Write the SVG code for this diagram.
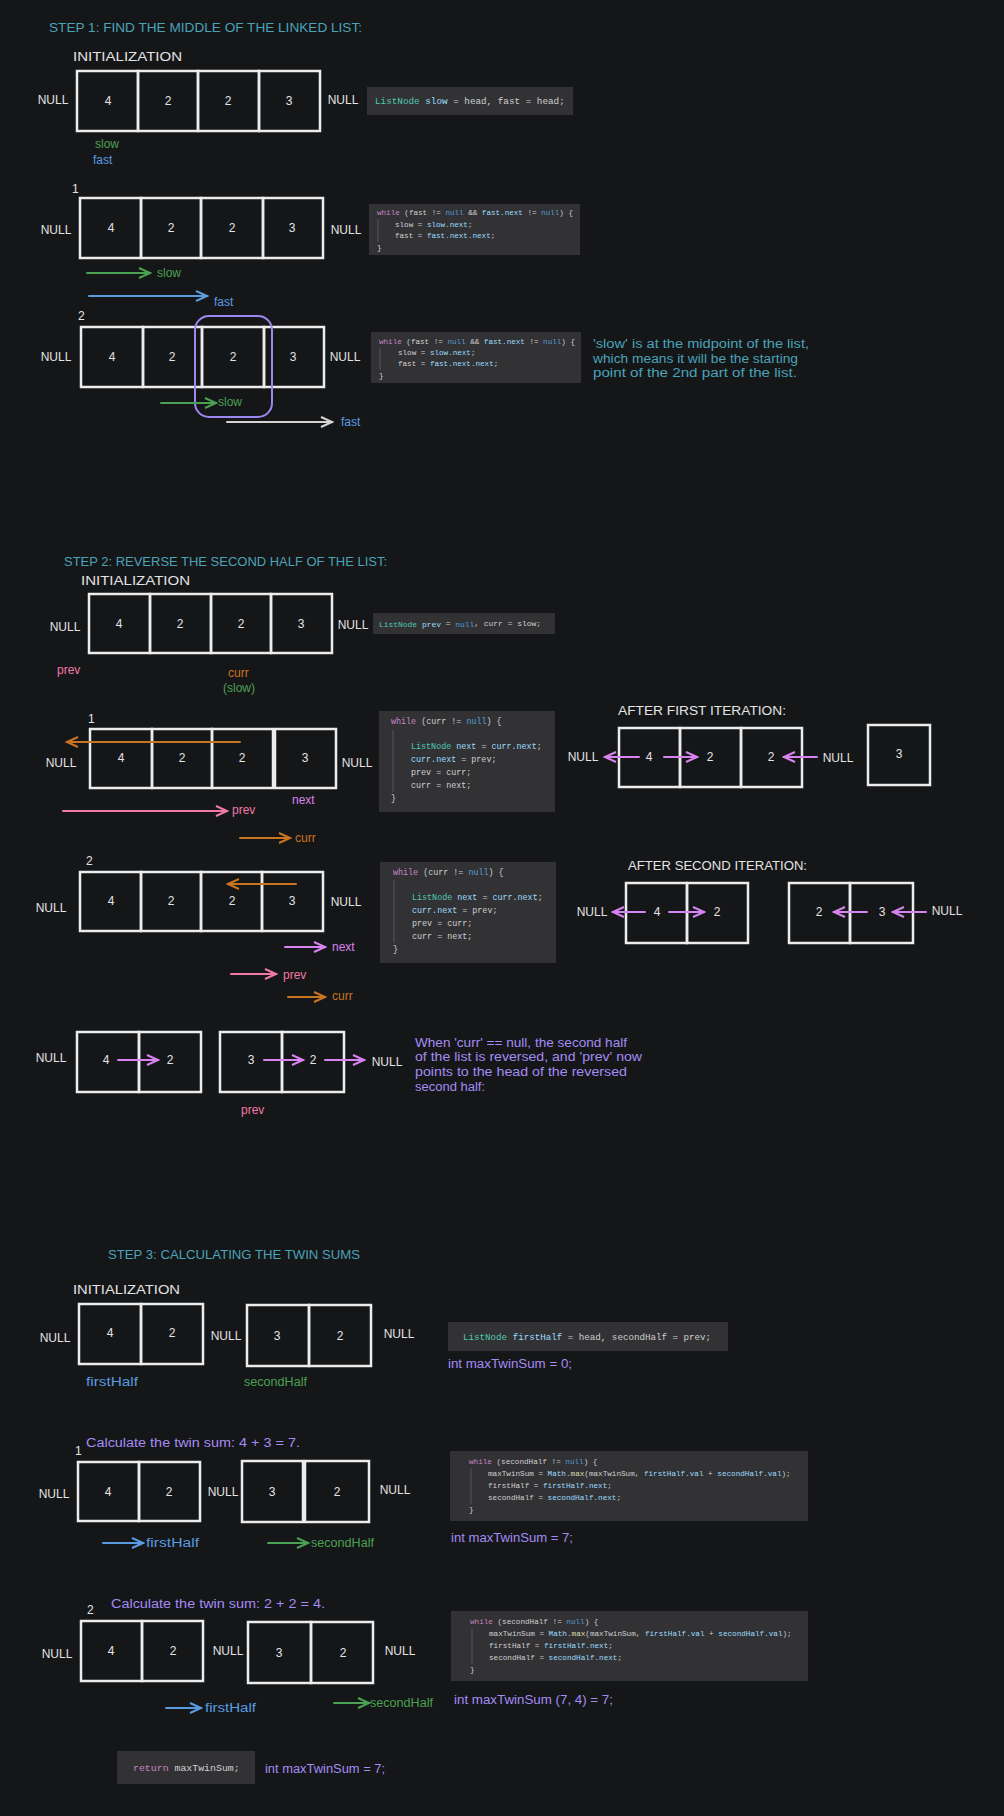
<svg xmlns="http://www.w3.org/2000/svg" width="1004" height="1816" viewBox="0 0 1004 1816">
<defs>
<style>
.hw{font-family:"Liberation Sans",Arial,sans-serif;font-size:12px;fill:#e4e4e4;dominant-baseline:central}
.mid{text-anchor:middle}
.teal{fill:#4ba3b8}.grn{fill:#4ba153}.blu{fill:#5a9be0}.pnk{fill:#f07aa4}.org{fill:#c97420}.pur{fill:#a48cf4}.mag{fill:#d884f0}
.code{font-family:"Liberation Mono","DejaVu Sans Mono",monospace;fill:#cfcfcf;dominant-baseline:central}
.kw{fill:#c586c0}.nu{fill:#569cd6}.ty{fill:#4ec9b0}.va{fill:#9cdcfe}.fn{fill:#dcdcaa}
.cell{fill:none;stroke:#ececec;stroke-width:2.5}
.cbox{fill:#323235}
.guide{stroke:#555558;stroke-width:1}
.arr{fill:none;stroke-width:2;stroke-linecap:round}
</style>
<marker id="mG" markerUnits="userSpaceOnUse" markerWidth="14" markerHeight="14" refX="12" refY="6" orient="auto"><path d="M1,1 L12,6 L1,11" fill="none" stroke="#4ba153" stroke-width="2"/></marker>
<marker id="mB" markerUnits="userSpaceOnUse" markerWidth="14" markerHeight="14" refX="12" refY="6" orient="auto"><path d="M1,1 L12,6 L1,11" fill="none" stroke="#5a9be0" stroke-width="2"/></marker>
<marker id="mW" markerUnits="userSpaceOnUse" markerWidth="14" markerHeight="14" refX="12" refY="6" orient="auto"><path d="M1,1 L12,6 L1,11" fill="none" stroke="#d4d4d4" stroke-width="2"/></marker>
<marker id="mP" markerUnits="userSpaceOnUse" markerWidth="14" markerHeight="14" refX="12" refY="6" orient="auto"><path d="M1,1 L12,6 L1,11" fill="none" stroke="#f07aa4" stroke-width="2"/></marker>
<marker id="mO" markerUnits="userSpaceOnUse" markerWidth="14" markerHeight="14" refX="12" refY="6" orient="auto"><path d="M1,1 L12,6 L1,11" fill="none" stroke="#c97420" stroke-width="2"/></marker>
<marker id="mM" markerUnits="userSpaceOnUse" markerWidth="14" markerHeight="14" refX="12" refY="6" orient="auto"><path d="M1,1 L12,6 L1,11" fill="none" stroke="#d884f0" stroke-width="2"/></marker>
</defs>
<rect x="0" y="0" width="1004" height="1816" fill="#151618"/>

<!-- ================= STEP 1 ================= -->
<g id="step1-labels">
<text class="hw teal" x="49" y="28" font-size="13" textLength="313" lengthAdjust="spacingAndGlyphs">STEP 1: FIND THE MIDDLE OF THE LINKED LIST:</text>
<text class="hw" x="73" y="57" textLength="109" lengthAdjust="spacingAndGlyphs">INITIALIZATION</text>
<text class="hw mid" x="53" y="100">NULL</text>
<text class="hw mid" x="343" y="100">NULL</text>
<text class="hw grn" x="95" y="144">slow</text>
<text class="hw blu" x="93" y="160">fast</text>
<text class="hw" x="72" y="189">1</text>
<text class="hw mid" x="56" y="230">NULL</text>
<text class="hw mid" x="346" y="230">NULL</text>
<text class="hw grn" x="157" y="273">slow</text>
<text class="hw blu" x="214" y="302">fast</text>
<text class="hw" x="78" y="316">2</text>
<text class="hw mid" x="56" y="357">NULL</text>
<text class="hw mid" x="345" y="357">NULL</text>
<text class="hw grn" x="218" y="402">slow</text>
<text class="hw blu" x="341" y="422">fast</text>
<text class="hw teal" x="593" y="344" textLength="216" lengthAdjust="spacingAndGlyphs">'slow' is at the midpoint of the list,</text>
<text class="hw teal" x="593" y="359" textLength="205" lengthAdjust="spacingAndGlyphs">which means it will be the starting</text>
<text class="hw teal" x="593" y="373" textLength="204" lengthAdjust="spacingAndGlyphs">point of the 2nd part of the list.</text>
</g>

<g id="s1-init-list">
<g id="s1i-n1"><rect class="cell" x="77" y="71" width="61" height="60"/><text class="hw mid" x="108" y="101">4</text></g>
<g id="s1i-n2"><rect class="cell" x="138" y="71" width="60" height="60"/><text class="hw mid" x="168" y="101">2</text></g>
<g id="s1i-n3"><rect class="cell" x="198" y="71" width="61" height="60"/><text class="hw mid" x="228" y="101">2</text></g>
<g id="s1i-n4"><rect class="cell" x="259" y="71" width="61" height="60"/><text class="hw mid" x="289" y="101">3</text></g>
</g>
<g id="s1-init-code">
<rect class="cbox" x="367" y="87" width="206" height="28"/>
<text class="code" x="375" y="101" font-size="9.3"><tspan class="ty">ListNode</tspan> <tspan class="va">slow</tspan> = head, fast = head;</text>
</g>

<g id="s1-it1-list">
<g id="s1a-n1"><rect class="cell" x="80" y="198" width="61" height="60"/><text class="hw mid" x="111" y="228">4</text></g>
<g id="s1a-n2"><rect class="cell" x="141" y="198" width="60" height="60"/><text class="hw mid" x="171" y="228">2</text></g>
<g id="s1a-n3"><rect class="cell" x="201" y="198" width="62" height="60"/><text class="hw mid" x="232" y="228">2</text></g>
<g id="s1a-n4"><rect class="cell" x="263" y="198" width="60" height="60"/><text class="hw mid" x="292" y="228">3</text></g>
</g>
<g id="s1-it1-code">
<rect class="cbox" x="369" y="204" width="211" height="51"/>
<line class="guide" x1="378" y1="219" x2="378" y2="242"/>
<text class="code" x="377" y="213" font-size="7.6"><tspan class="kw">while</tspan> (fast != <tspan class="nu">null</tspan> &amp;&amp; <tspan class="va">fast.next</tspan> != <tspan class="nu">null</tspan>) {</text>
<text class="code" x="395" y="225" font-size="7.6">slow = <tspan class="va">slow.next</tspan>;</text>
<text class="code" x="395" y="236" font-size="7.6">fast = <tspan class="va">fast.next.next</tspan>;</text>
<text class="code" x="377" y="248" font-size="7.6">}</text>
</g>

<g id="s1-it2-list">
<g id="s1b-n1"><rect class="cell" x="81" y="327" width="62" height="60"/><text class="hw mid" x="112" y="357">4</text></g>
<g id="s1b-n2"><rect class="cell" x="143" y="327" width="59" height="60"/><text class="hw mid" x="172" y="357">2</text></g>
<g id="s1b-n3"><rect class="cell" x="202" y="327" width="62" height="60"/><text class="hw mid" x="233" y="357">2</text></g>
<g id="s1b-n4"><rect class="cell" x="264" y="327" width="60" height="60"/><text class="hw mid" x="293" y="357">3</text></g>
<g id="s1b-highlight"><rect x="195" y="316" width="77" height="101" rx="14" fill="none" stroke="#9d87f0" stroke-width="2"/></g>
</g>
<g id="s1-it2-code">
<rect class="cbox" x="371" y="332" width="210" height="51"/>
<line class="guide" x1="380" y1="348" x2="380" y2="370"/>
<text class="code" x="379" y="342" font-size="7.6"><tspan class="kw">while</tspan> (fast != <tspan class="nu">null</tspan> &amp;&amp; <tspan class="va">fast.next</tspan> != <tspan class="nu">null</tspan>) {</text>
<text class="code" x="398" y="353" font-size="7.6">slow = <tspan class="va">slow.next</tspan>;</text>
<text class="code" x="398" y="364" font-size="7.6">fast = <tspan class="va">fast.next.next</tspan>;</text>
<text class="code" x="379" y="376" font-size="7.6">}</text>
</g>

<!-- ================= STEP 2 ================= -->
<g id="step2-labels">
<text class="hw teal" x="64" y="562" font-size="13" textLength="323" lengthAdjust="spacingAndGlyphs">STEP 2: REVERSE THE SECOND HALF OF THE LIST:</text>
<text class="hw" x="81" y="581" textLength="109" lengthAdjust="spacingAndGlyphs">INITIALIZATION</text>
<text class="hw mid" x="65" y="627">NULL</text>
<text class="hw mid" x="353" y="625">NULL</text>
<text class="hw pnk" x="57" y="670">prev</text>
<text class="hw org" x="228" y="673">curr</text>
<text class="hw grn" x="223" y="688">(slow)</text>
<text class="hw" x="88" y="719">1</text>
<text class="hw mid" x="61" y="763">NULL</text>
<text class="hw mid" x="357" y="763">NULL</text>
<text class="hw mag" x="292" y="800">next</text>
<text class="hw pnk" x="232" y="810">prev</text>
<text class="hw org" x="295" y="838">curr</text>
<text class="hw" x="86" y="861">2</text>
<text class="hw mid" x="51" y="908">NULL</text>
<text class="hw mid" x="346" y="902">NULL</text>
<text class="hw mag" x="332" y="947">next</text>
<text class="hw pnk" x="283" y="975">prev</text>
<text class="hw org" x="332" y="996">curr</text>
<text class="hw mid" x="51" y="1058">NULL</text>
<text class="hw mid" x="387" y="1062">NULL</text>
<text class="hw pnk" x="241" y="1110">prev</text>
<text class="hw pur" x="415" y="1043" textLength="212" lengthAdjust="spacingAndGlyphs">When 'curr' == null, the second half</text>
<text class="hw pur" x="415" y="1057" textLength="227" lengthAdjust="spacingAndGlyphs">of the list is reversed, and 'prev' now</text>
<text class="hw pur" x="415" y="1072" textLength="212" lengthAdjust="spacingAndGlyphs">points to the head of the reversed</text>
<text class="hw pur" x="415" y="1087" textLength="70" lengthAdjust="spacingAndGlyphs">second half:</text>
<text class="hw" x="618" y="711" textLength="168" lengthAdjust="spacingAndGlyphs">AFTER FIRST ITERATION:</text>
<text class="hw mid" x="583" y="757">NULL</text>
<text class="hw mid" x="838" y="758">NULL</text>
<text class="hw" x="628" y="866" textLength="179" lengthAdjust="spacingAndGlyphs">AFTER SECOND ITERATION:</text>
<text class="hw mid" x="592" y="912">NULL</text>
<text class="hw mid" x="947" y="911">NULL</text>
</g>

<g id="s2-init-list">
<g id="s2i-n1"><rect class="cell" x="89" y="594" width="61" height="59"/><text class="hw mid" x="119" y="624">4</text></g>
<g id="s2i-n2"><rect class="cell" x="150" y="594" width="61" height="59"/><text class="hw mid" x="180" y="624">2</text></g>
<g id="s2i-n3"><rect class="cell" x="211" y="594" width="60" height="59"/><text class="hw mid" x="241" y="624">2</text></g>
<g id="s2i-n4"><rect class="cell" x="271" y="594" width="61" height="59"/><text class="hw mid" x="301" y="624">3</text></g>
</g>
<g id="s2-init-code">
<rect class="cbox" x="373" y="613" width="182" height="21"/>
<text class="code" x="379" y="623.5" font-size="7.95"><tspan class="ty">ListNode</tspan> <tspan class="va">prev</tspan> = <tspan class="nu">null</tspan>, curr = slow;</text>
</g>

<g id="s2-it1-list">
<g id="s2a-n1"><rect class="cell" x="90" y="729" width="62" height="59"/><text class="hw mid" x="121" y="758">4</text></g>
<g id="s2a-n2"><rect class="cell" x="152" y="729" width="60" height="59"/><text class="hw mid" x="182" y="758">2</text></g>
<g id="s2a-n3"><rect class="cell" x="212" y="729" width="61" height="59"/><text class="hw mid" x="242" y="758">2</text></g>
<g id="s2a-n4"><rect class="cell" x="275" y="729" width="61" height="59"/><text class="hw mid" x="305" y="758">3</text></g>
</g>
<g id="s2-it1-code">
<rect class="cbox" x="379" y="711" width="176" height="101"/>
<line class="guide" x1="393" y1="730" x2="393" y2="792"/>
<text class="code" x="391" y="722" font-size="8.4"><tspan class="kw">while</tspan> (curr != <tspan class="nu">null</tspan>) {</text>
<text class="code" x="411" y="747" font-size="8.4"><tspan class="ty">ListNode</tspan> <tspan class="va">next</tspan> = <tspan class="va">curr.next</tspan>;</text>
<text class="code" x="411" y="760" font-size="8.4"><tspan class="va">curr.next</tspan> = prev;</text>
<text class="code" x="411" y="773" font-size="8.4">prev = curr;</text>
<text class="code" x="411" y="786" font-size="8.4">curr = next;</text>
<text class="code" x="391" y="799" font-size="8.4">}</text>
</g>

<g id="s2-after1">
<g id="s2f-n1"><rect class="cell" x="619" y="728" width="61" height="59"/><text class="hw mid" x="649" y="757">4</text></g>
<g id="s2f-n2"><rect class="cell" x="680" y="728" width="61" height="59"/><text class="hw mid" x="710" y="757">2</text></g>
<g id="s2f-n3"><rect class="cell" x="741" y="728" width="61" height="59"/><text class="hw mid" x="771" y="757">2</text></g>
<g id="s2f-n4"><rect class="cell" x="868" y="725" width="62" height="60"/><text class="hw mid" x="899" y="754">3</text></g>
</g>

<g id="s2-it2-list">
<g id="s2b-n1"><rect class="cell" x="80" y="872" width="61" height="59"/><text class="hw mid" x="111" y="901">4</text></g>
<g id="s2b-n2"><rect class="cell" x="141" y="872" width="60" height="59"/><text class="hw mid" x="171" y="901">2</text></g>
<g id="s2b-n3"><rect class="cell" x="201" y="872" width="61" height="59"/><text class="hw mid" x="232" y="901">2</text></g>
<g id="s2b-n4"><rect class="cell" x="262" y="872" width="61" height="59"/><text class="hw mid" x="292" y="901">3</text></g>
</g>
<g id="s2-it2-code">
<rect class="cbox" x="380" y="862" width="176" height="101"/>
<line class="guide" x1="394" y1="880" x2="394" y2="943"/>
<text class="code" x="393" y="873" font-size="8.4"><tspan class="kw">while</tspan> (curr != <tspan class="nu">null</tspan>) {</text>
<text class="code" x="412" y="898" font-size="8.4"><tspan class="ty">ListNode</tspan> <tspan class="va">next</tspan> = <tspan class="va">curr.next</tspan>;</text>
<text class="code" x="412" y="911" font-size="8.4"><tspan class="va">curr.next</tspan> = prev;</text>
<text class="code" x="412" y="924" font-size="8.4">prev = curr;</text>
<text class="code" x="412" y="937" font-size="8.4">curr = next;</text>
<text class="code" x="393" y="950" font-size="8.4">}</text>
</g>

<g id="s2-after2">
<g id="s2g-n1"><rect class="cell" x="626" y="883" width="61" height="60"/><text class="hw mid" x="657" y="912">4</text></g>
<g id="s2g-n2"><rect class="cell" x="687" y="883" width="61" height="60"/><text class="hw mid" x="717" y="912">2</text></g>
<g id="s2g-n3"><rect class="cell" x="789" y="883" width="61" height="60"/><text class="hw mid" x="819" y="912">2</text></g>
<g id="s2g-n4"><rect class="cell" x="850" y="883" width="63" height="60"/><text class="hw mid" x="882" y="912">3</text></g>
</g>

<g id="s2-final">
<g id="s2h-n1"><rect class="cell" x="77" y="1032" width="62" height="60"/><text class="hw mid" x="106" y="1060">4</text></g>
<g id="s2h-n2"><rect class="cell" x="139" y="1032" width="62" height="60"/><text class="hw mid" x="170" y="1060">2</text></g>
<g id="s2h-n3"><rect class="cell" x="220" y="1032" width="62" height="60"/><text class="hw mid" x="251" y="1060">3</text></g>
<g id="s2h-n4"><rect class="cell" x="282" y="1032" width="62" height="60"/><text class="hw mid" x="313" y="1060">2</text></g>
</g>

<!-- ================= STEP 3 ================= -->
<g id="step3-labels">
<text class="hw teal" x="108" y="1255" font-size="13" textLength="252" lengthAdjust="spacingAndGlyphs">STEP 3: CALCULATING THE TWIN SUMS</text>
<text class="hw" x="73" y="1290" textLength="107" lengthAdjust="spacingAndGlyphs">INITIALIZATION</text>
<text class="hw mid" x="55" y="1338">NULL</text>
<text class="hw mid" x="226" y="1336">NULL</text>
<text class="hw mid" x="399" y="1334">NULL</text>
<text class="hw blu" x="86" y="1382" textLength="52" lengthAdjust="spacingAndGlyphs">firstHalf</text>
<text class="hw grn" x="244" y="1382" textLength="63" lengthAdjust="spacingAndGlyphs">secondHalf</text>
<text class="hw pur" x="448" y="1364" font-size="13" textLength="124" lengthAdjust="spacingAndGlyphs">int maxTwinSum = 0;</text>
<text class="hw" x="75" y="1451">1</text>
<text class="hw pur" x="86" y="1443" font-size="13" textLength="214" lengthAdjust="spacingAndGlyphs">Calculate the twin sum: 4 + 3 = 7.</text>
<text class="hw mid" x="54" y="1494">NULL</text>
<text class="hw mid" x="223" y="1492">NULL</text>
<text class="hw mid" x="395" y="1490">NULL</text>
<text class="hw blu" x="146" y="1543" textLength="53" lengthAdjust="spacingAndGlyphs">firstHalf</text>
<text class="hw grn" x="311" y="1543" textLength="63" lengthAdjust="spacingAndGlyphs">secondHalf</text>
<text class="hw pur" x="451" y="1538" font-size="13" textLength="122" lengthAdjust="spacingAndGlyphs">int maxTwinSum = 7;</text>
<text class="hw" x="87" y="1610">2</text>
<text class="hw pur" x="111" y="1604" font-size="13" textLength="214" lengthAdjust="spacingAndGlyphs">Calculate the twin sum: 2 + 2 = 4.</text>
<text class="hw mid" x="57" y="1654">NULL</text>
<text class="hw mid" x="228" y="1651">NULL</text>
<text class="hw mid" x="400" y="1651">NULL</text>
<text class="hw blu" x="205" y="1708" textLength="51" lengthAdjust="spacingAndGlyphs">firstHalf</text>
<text class="hw grn" x="370" y="1703" textLength="63" lengthAdjust="spacingAndGlyphs">secondHalf</text>
<text class="hw pur" x="454" y="1700" font-size="13" textLength="159" lengthAdjust="spacingAndGlyphs">int maxTwinSum (7, 4) = 7;</text>
<text class="hw pur" x="265" y="1769" font-size="13" textLength="120" lengthAdjust="spacingAndGlyphs">int maxTwinSum = 7;</text>
</g>

<g id="s3-init-list">
<g id="s3i-n1"><rect class="cell" x="79" y="1304" width="62" height="60"/><text class="hw mid" x="110" y="1333">4</text></g>
<g id="s3i-n2"><rect class="cell" x="141" y="1304" width="62" height="60"/><text class="hw mid" x="172" y="1333">2</text></g>
<g id="s3i-n3"><rect class="cell" x="247" y="1305" width="62" height="61"/><text class="hw mid" x="277" y="1336">3</text></g>
<g id="s3i-n4"><rect class="cell" x="309" y="1305" width="62" height="61"/><text class="hw mid" x="340" y="1336">2</text></g>
</g>
<g id="s3-init-code">
<rect class="cbox" x="448" y="1322" width="280" height="29"/>
<text class="code" x="463" y="1337" font-size="9.2"><tspan class="ty">ListNode</tspan> <tspan class="va">firstHalf</tspan> = head, secondHalf = prev;</text>
</g>

<g id="s3-it1-list">
<g id="s3a-n1"><rect class="cell" x="78" y="1462" width="61" height="59"/><text class="hw mid" x="108" y="1492">4</text></g>
<g id="s3a-n2"><rect class="cell" x="139" y="1462" width="61" height="59"/><text class="hw mid" x="169" y="1492">2</text></g>
<g id="s3a-n3"><rect class="cell" x="242" y="1461" width="61" height="61"/><text class="hw mid" x="272" y="1492">3</text></g>
<g id="s3a-n4"><rect class="cell" x="305" y="1461" width="64" height="61"/><text class="hw mid" x="337" y="1492">2</text></g>
</g>
<g id="s3-it1-code">
<rect class="cbox" x="450" y="1451" width="358" height="70"/>
<line class="guide" x1="471" y1="1468" x2="471" y2="1504"/>
<text class="code" x="469" y="1462" font-size="7.65"><tspan class="kw">while</tspan> (secondHalf != <tspan class="nu">null</tspan>) {</text>
<text class="code" x="488" y="1474" font-size="7.65">maxTwinSum = <tspan class="va">Math</tspan>.<tspan class="fn">max</tspan>(maxTwinSum, <tspan class="va">firstHalf.val</tspan> + <tspan class="va">secondHalf.val</tspan>);</text>
<text class="code" x="488" y="1486" font-size="7.65">firstHalf = <tspan class="va">firstHalf.next</tspan>;</text>
<text class="code" x="488" y="1498" font-size="7.65">secondHalf = <tspan class="va">secondHalf.next</tspan>;</text>
<text class="code" x="469" y="1510" font-size="7.65">}</text>
</g>

<g id="s3-it2-list">
<g id="s3b-n1"><rect class="cell" x="81" y="1621" width="61" height="60"/><text class="hw mid" x="111" y="1651">4</text></g>
<g id="s3b-n2"><rect class="cell" x="142" y="1621" width="61" height="60"/><text class="hw mid" x="173" y="1651">2</text></g>
<g id="s3b-n3"><rect class="cell" x="248" y="1622" width="63" height="61"/><text class="hw mid" x="279" y="1653">3</text></g>
<g id="s3b-n4"><rect class="cell" x="311" y="1622" width="62" height="61"/><text class="hw mid" x="343" y="1653">2</text></g>
</g>
<g id="s3-it2-code">
<rect class="cbox" x="451" y="1611" width="357" height="70"/>
<line class="guide" x1="472" y1="1628" x2="472" y2="1664"/>
<text class="code" x="470" y="1622" font-size="7.65"><tspan class="kw">while</tspan> (secondHalf != <tspan class="nu">null</tspan>) {</text>
<text class="code" x="489" y="1634" font-size="7.65">maxTwinSum = <tspan class="va">Math</tspan>.<tspan class="fn">max</tspan>(maxTwinSum, <tspan class="va">firstHalf.val</tspan> + <tspan class="va">secondHalf.val</tspan>);</text>
<text class="code" x="489" y="1646" font-size="7.65">firstHalf = <tspan class="va">firstHalf.next</tspan>;</text>
<text class="code" x="489" y="1658" font-size="7.65">secondHalf = <tspan class="va">secondHalf.next</tspan>;</text>
<text class="code" x="470" y="1670" font-size="7.65">}</text>
</g>

<g id="s3-return-code">
<rect class="cbox" x="117" y="1751" width="138" height="33"/>
<text class="code" x="133" y="1768" font-size="9.9"><tspan class="kw">return</tspan> maxTwinSum;</text>
</g>

<!-- ================= CONNECTORS ================= -->
<g id="connectors">
<line class="arr" stroke="#4ba153" marker-end="url(#mG)" x1="87" y1="273" x2="150" y2="273"/>
<line class="arr" stroke="#5a9be0" marker-end="url(#mB)" x1="89" y1="296" x2="207" y2="296"/>
<line class="arr" stroke="#4ba153" marker-end="url(#mG)" x1="161" y1="403" x2="216" y2="403"/>
<line class="arr" stroke="#d4d4d4" marker-end="url(#mW)" x1="227" y1="422" x2="332" y2="422"/>
<line class="arr" stroke="#c97420" marker-end="url(#mO)" x1="240" y1="742" x2="67" y2="742"/>
<line class="arr" stroke="#f07aa4" marker-end="url(#mP)" x1="63" y1="811" x2="227" y2="811"/>
<line class="arr" stroke="#c97420" marker-end="url(#mO)" x1="240" y1="838" x2="290" y2="838"/>
<line class="arr" stroke="#d884f0" marker-end="url(#mM)" x1="639" y1="757" x2="605" y2="757"/>
<line class="arr" stroke="#d884f0" marker-end="url(#mM)" x1="664" y1="757" x2="697" y2="757"/>
<line class="arr" stroke="#d884f0" marker-end="url(#mM)" x1="817" y1="757" x2="784" y2="757"/>
<line class="arr" stroke="#d884f0" marker-end="url(#mM)" x1="645" y1="912" x2="613" y2="912"/>
<line class="arr" stroke="#d884f0" marker-end="url(#mM)" x1="669" y1="912" x2="704" y2="912"/>
<line class="arr" stroke="#d884f0" marker-end="url(#mM)" x1="867" y1="912" x2="834" y2="912"/>
<line class="arr" stroke="#d884f0" marker-end="url(#mM)" x1="926" y1="912" x2="893" y2="912"/>
<line class="arr" stroke="#c97420" marker-end="url(#mO)" x1="296" y1="884" x2="228" y2="884"/>
<line class="arr" stroke="#d884f0" marker-end="url(#mM)" x1="285" y1="947" x2="325" y2="947"/>
<line class="arr" stroke="#f07aa4" marker-end="url(#mP)" x1="231" y1="974" x2="276" y2="974"/>
<line class="arr" stroke="#c97420" marker-end="url(#mO)" x1="288" y1="997" x2="325" y2="997"/>
<line class="arr" stroke="#d884f0" marker-end="url(#mM)" x1="118" y1="1060" x2="158" y2="1060"/>
<line class="arr" stroke="#d884f0" marker-end="url(#mM)" x1="264" y1="1060" x2="303" y2="1060"/>
<line class="arr" stroke="#d884f0" marker-end="url(#mM)" x1="325" y1="1060" x2="364" y2="1060"/>
<line class="arr" stroke="#5a9be0" marker-end="url(#mB)" x1="103" y1="1543" x2="143" y2="1543"/>
<line class="arr" stroke="#4ba153" marker-end="url(#mG)" x1="268" y1="1543" x2="308" y2="1543"/>
<line class="arr" stroke="#5a9be0" marker-end="url(#mB)" x1="166" y1="1708" x2="201" y2="1708"/>
<line class="arr" stroke="#4ba153" marker-end="url(#mG)" x1="334" y1="1703" x2="369" y2="1703"/>
</g>
</svg>
